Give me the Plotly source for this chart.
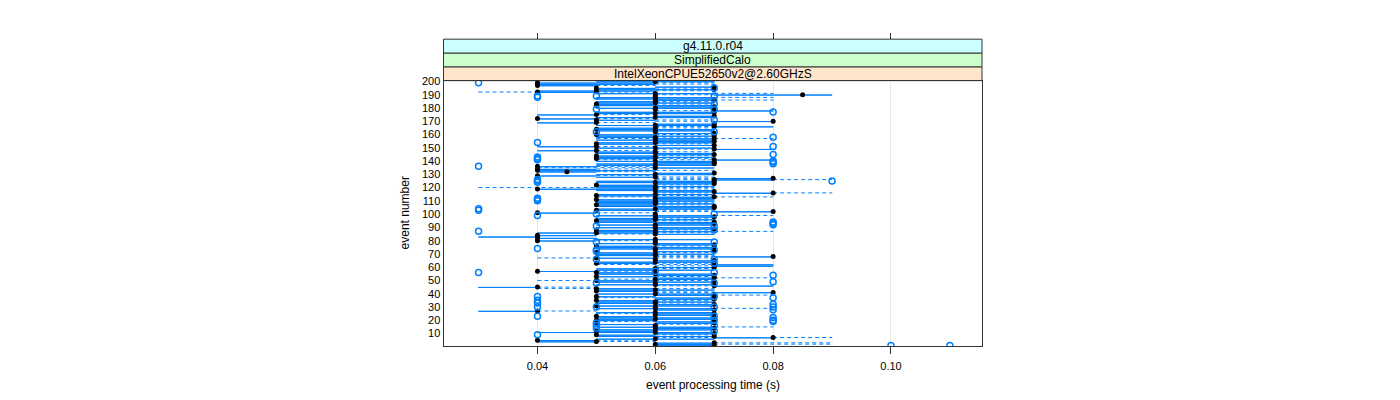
import plotly.graph_objects as go

# ---------------- data (times in ms) ----------------
EVENTS = list(range(1, 201))

LO = [60,60,60,40,40,50,60,50,50,60, 40,50,50,60,50,60,50,60,50,50,
      50,50,50,60,50,50,30,60,50,60, 50,60,50,50,50,60,50,50,60,50,
      60,50,50,40,30,60,50,60,50,40, 50,60,50,60,50,50,40,50,50,60,
      60,50,50,50,60,60,40,60,50,50, 50,60,60,50,50,50,60,50,60,40,
      50,40,30,40,50,40,50,50,60,50, 60,50,60,50,50,50,50,60,50,60,
      40,60,50,50,60,50,50,50,50,50, 50,60,50,50,50,60,60,50,40,30,
      50,50,60,50,50,60,60,50,40,50, 60,40,40,40,40,40,50,50,60,50,
      50,50,50,50,60,50,50,40,60,50, 40,60,50,50,60,50,50,50,50,50,
      60,60,50,50,50,60,50,60,40,60, 50,40,50,60,40,50,50,60,60,50,
      60,50,50,50,50,60,50,50,60,60, 50,30,40,50,50,60,40,40,40,50]

Q1 = [60,60,60,40,40,50,70,50,50,60, 40,50,50,60,50,60,50,60,60,50,
      50,50,50,60,60,50,30,60,50,60, 50,60,50,50,50,60,60,50,60,50,
      70,50,50,50,30,70,50,60,50,50, 60,60,50,60,50,50,40,50,50,60,
      70,70,50,50,60,60,50,70,50,50, 50,60,60,50,50,50,60,50,60,40,
      50,40,30,40,60,40,50,50,60,50, 60,50,60,50,50,50,50,60,50,60,
      40,70,50,50,60,50,50,50,50,50, 50,60,60,50,50,70,60,50,40,50,
      50,50,60,50,50,70,70,50,40,50, 60,40,40,40,60,40,50,50,60,50,
      70,50,50,50,60,50,50,40,70,50, 40,60,50,50,60,50,60,50,50,50,
      60,60,50,50,50,70,50,60,40,70, 50,40,50,60,40,50,50,70,60,50,
      60,50,50,50,50,60,50,50,60,70, 50,40,40,50,50,60,40,40,40,50]

MED = [70,60,70,50,40,60,80,70,50,70, 60,50,60,70,60,60,50,70,70,50,
       60,70,50,60,70,60,40,70,60,60, 50,70,60,60,50,70,70,50,70,60,
       80,50,60,50,40,70,60,60,70,50, 60,70,50,70,60,50,40,60,60,70,
       70,70,50,60,70,60,50,80,60,60, 50,70,60,60,70,50,70,60,60,40,
       60,40,40,40,60,50,60,50,70,60, 60,60,70,70,50,60,60,70,60,60,
       40,80,50,60,70,70,50,60,60,60, 50,60,70,50,60,80,70,60,40,60,
       60,50,70,60,70,70,80,60,40,60, 70,45,40,40,60,40,60,70,70,60,
       70,50,60,50,70,60,60,50,70,60, 50,70,50,60,70,60,70,60,70,50,
       70,60,60,50,60,70,60,70,50,80, 50,40,60,70,50,60,70,70,60,60,
       70,50,50,60,60,70,60,60,60,85, 60,40,50,70,50,70,40,40,40,60]

Q3 = [70,70,70,50,50,70,80,70,60,70, 70,60,70,70,70,60,60,70,70,60,
      70,70,60,70,70,70,40,70,70,60, 70,70,60,70,60,70,70,60,70,70,
      80,60,70,60,40,80,70,60,70,60, 70,70,60,70,70,60,50,70,60,70,
      80,80,60,70,70,60,60,80,60,70, 60,70,60,70,70,60,70,70,60,50,
      70,50,40,50,70,60,70,60,70,70, 60,70,70,70,60,70,60,70,70,60,
      50,80,60,70,70,70,60,70,60,70, 70,70,70,60,70,80,70,70,60,60,
      70,60,70,70,70,80,80,60,50,70, 70,50,60,50,70,50,70,70,70,70,
      80,60,70,60,70,70,60,50,80,70, 50,70,60,70,70,70,70,60,70,60,
      70,60,70,70,60,80,70,70,50,80, 60,50,70,70,50,70,70,80,60,70,
      70,70,60,70,60,70,70,70,60,90, 70,50,60,70,60,70,50,60,60,70]

HI = [70,90,90,60,60,70,90,70,70,70, 70,60,70,70,80,60,70,70,70,60,
      70,70,60,70,70,70,50,70,80,60, 70,70,70,70,70,70,70,60,80,70,
      80,70,70,70,50,80,70,60,70,70, 70,80,70,70,70,60,60,70,70,70,
      80,80,70,70,70,60,70,80,70,70, 70,70,60,70,70,70,70,70,60,60,
      70,50,40,50,70,70,80,70,70,70, 60,70,70,70,70,70,70,70,80,60,
      60,80,70,70,70,70,70,70,70,70, 70,70,80,70,70,90,70,70,70,70,
      70,70,70,70,70,90,80,70,60,70, 70,60,70,60,70,60,70,70,70,70,
      80,70,70,70,70,70,70,60,80,70, 60,70,70,70,70,70,80,70,70,70,
      70,60,70,70,70,80,70,70,60,80, 70,60,70,70,60,70,70,80,60,70,
      70,70,70,70,70,80,70,80,60,90, 80,60,70,70,70,70,60,70,70,70]

# outliers (event number, time in ms)
OUT_EVENT = [1, 1, 9, 12, 14, 16, 16, 18, 19, 20, 20, 22, 23, 23, 28, 30, 30,
             30, 30, 32, 33, 35, 37, 38, 38, 48, 48, 49, 54, 56, 56, 57, 63,
             66, 66, 72, 73, 73, 74, 79, 79, 87, 88, 91, 91, 92, 93, 94, 99,
             100, 100, 103, 104, 110, 111, 112, 124, 125, 125, 126, 136, 138,
             139, 140, 141, 142, 143, 145, 151, 154, 158, 162, 162, 171, 177,
             179, 179, 183, 188, 189, 189, 189, 195, 199]
OUT_MS = [100, 110, 40, 70, 50, 50, 70, 50, 80, 70, 80, 80, 40, 70, 80, 40, 50,
          70, 80, 80, 40, 40, 80, 40, 70, 50, 70, 80, 80, 30, 70, 60, 70,
          50, 70, 50, 50, 70, 40, 50, 70, 30, 70, 50, 70, 80, 80, 80, 40,
          50, 70, 30, 30, 40, 40, 40, 40, 40, 90, 40, 30, 80,
          80, 80, 40, 40, 40, 80, 80, 40, 80, 50, 70, 70, 80,
          50, 70, 70, 40, 40, 50, 70, 70, 30]

X_TICKS = [0.04, 0.06, 0.08, 0.10]
X_TICKTEXT = ["0.04", "0.06", "0.08", "0.10"]
Y_TICKS = list(range(10, 201, 10))
STRIPS = ["IntelXeonCPUE52650v2@2.60GHzS", "SimplifiedCalo", "g4.11.0.r04"]
STRIP_COLORS = ["#FFE5CC", "#CCFFCC", "#CCFFFF"]

# ---------------- build geometry ----------------
BLUE = "#0080FF"
H = 0.25  # half box height (box.ratio = 1)

box_x, box_y = [], []
for e, a, b in zip(EVENTS, Q1, Q3):
    box_x += [a / 1000, b / 1000, b / 1000, a / 1000, a / 1000, None]
    box_y += [e - H, e - H, e + H, e + H, e - H, None]

wx, wy = [], []
ux, uy = [], []
for e, lo, a, b, hi in zip(EVENTS, LO, Q1, Q3, HI):
    wx += [lo / 1000, a / 1000, None, b / 1000, hi / 1000, None]
    wy += [e, e, None, e, e, None]
    for v in (lo, hi):
        ux += [v / 1000, v / 1000, None]
        uy += [e - H / 2, e + H / 2, None]

fig = go.Figure()
fig.add_trace(go.Scatter(x=wx, y=wy, mode="lines",
                         line=dict(color=BLUE, width=1, dash="4px,3px"),
                         hoverinfo="skip", showlegend=False))
fig.add_trace(go.Scatter(x=ux, y=uy, mode="lines",
                         line=dict(color=BLUE, width=1),
                         hoverinfo="skip", showlegend=False))
fig.add_trace(go.Scatter(x=box_x, y=box_y, mode="lines",
                         line=dict(color=BLUE, width=1),
                         hoverinfo="skip", showlegend=False))
fig.add_trace(go.Scatter(x=[m / 1000 for m in MED], y=EVENTS, mode="markers",
                         marker=dict(color="black", size=5),
                         showlegend=False))
fig.add_trace(go.Scatter(x=[m / 1000 for m in OUT_MS], y=OUT_EVENT, mode="markers",
                         marker=dict(symbol="circle-open", color=BLUE, size=6,
                                     line=dict(width=1.5, color=BLUE)),
                         showlegend=False))
# helper trace for top tick axis
fig.add_trace(go.Scatter(x=[None], y=[None], xaxis="x2", yaxis="y",
                         showlegend=False, hoverinfo="skip"))

OFF_X, OFF_Y = 8, 9.5  # page offset of the figure
X0, X1 = (443.5 - OFF_X) / 1400, (982 - OFF_X) / 1400
PANEL_TOP, PANEL_BOT = 78 - OFF_Y, 347 - OFF_Y
y_bot = (400 - PANEL_BOT) / 400
y_top = (400 - PANEL_TOP) / 400
strip_h = 14 / 400

FONT = "Liberation Sans, Arial, sans-serif"
shapes = []
annotations = []
for i, (txt, col) in enumerate(zip(STRIPS, STRIP_COLORS)):
    y0 = y_top + i * strip_h
    y1 = y0 + strip_h
    shapes.append(dict(type="rect", xref="paper", yref="paper", x0=X0, x1=X1,
                       y0=y0, y1=y1, fillcolor=col,
                       line=dict(color="#333333", width=1), layer="below"))
    annotations.append(dict(text=txt, xref="paper", yref="paper", x=(X0 + X1) / 2,
                            y=(y0 + y1) / 2, showarrow=False, xanchor="center",
                            yanchor="middle", font=dict(size=12, color="black", family=FONT)))

annotations.append(dict(text="event number", xref="paper", yref="paper",
                        x=(405 - OFF_X) / 1400, y=(400 - (PANEL_TOP + PANEL_BOT) / 2) / 400,
                        textangle=-90, showarrow=False, xanchor="center", yanchor="middle",
                        font=dict(size=12, color="black", family=FONT)))
annotations.append(dict(text="event processing time (s)", xref="paper", yref="paper",
                        x=(X0 + X1) / 2, y=(400 - (385 - 8)) / 400, showarrow=False,
                        xanchor="center", yanchor="middle",
                        font=dict(size=12, color="black", family=FONT)))

fig.update_layout(
    width=1400, height=400,
    margin=dict(l=0, r=0, t=0, b=0),
    paper_bgcolor="white", plot_bgcolor="white",
    showlegend=False,
    shapes=shapes, annotations=annotations,
    xaxis=dict(domain=[X0, X1], range=[0.02405, 0.11545],
               tickvals=X_TICKS, ticktext=X_TICKTEXT,
               ticks="outside", ticklen=7, tickcolor="#333333",
               ticklabelstandoff=3,
               showline=True, linecolor="#333333", mirror=True,
               showgrid=True, gridcolor="#E6E6E6", zeroline=False,
               tickfont=dict(size=11, color="black", family=FONT)),
    xaxis2=dict(overlaying="x", matches="x", anchor="free",
                position=y_top + 3 * strip_h, side="top",
                tickvals=X_TICKS, ticks="outside", ticklen=6, tickcolor="#333333",
                showticklabels=False, showline=False, showgrid=False, zeroline=False),
    yaxis=dict(domain=[y_bot, y_top], range=[0.4, 200.6],
               tickvals=Y_TICKS, ticktext=[str(v) for v in Y_TICKS],
               ticks="", showline=True, linecolor="#333333", mirror=True,
               showgrid=False, zeroline=False,
               tickfont=dict(size=11, color="black", family=FONT)),
)

fig.write_html("out.html")
